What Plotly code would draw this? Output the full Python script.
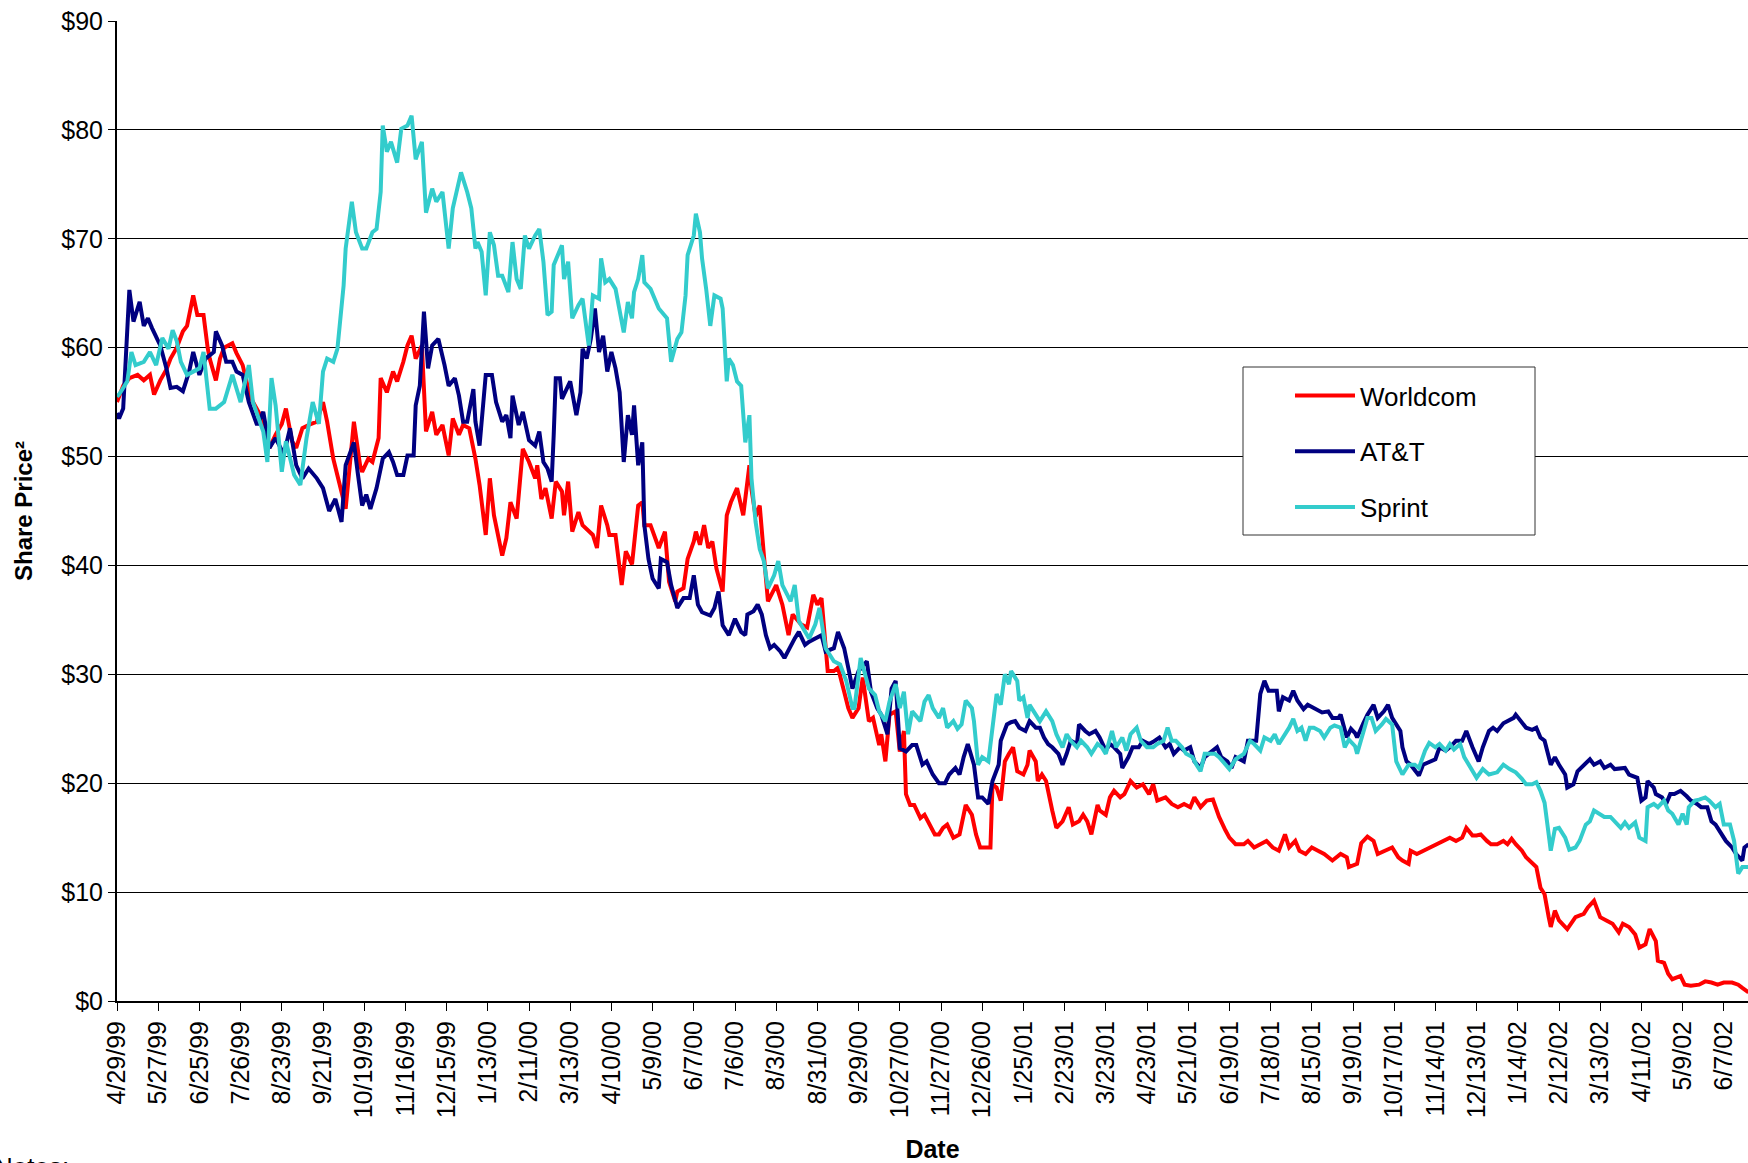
import plotly.graph_objects as go

# ---------------- data (trading-day index, closing price) ----------------
tick_labels = ["4/29/99", "5/27/99", "6/25/99", "7/26/99", "8/23/99", "9/21/99", "10/19/99",
               "11/16/99", "12/15/99", "1/13/00", "2/11/00", "3/13/00", "4/10/00", "5/9/00",
               "6/7/00", "7/6/00", "8/3/00", "8/31/00", "9/29/00", "10/27/00", "11/27/00",
               "12/26/00", "1/25/01", "2/23/01", "3/23/01", "4/23/01", "5/21/01", "6/19/01",
               "7/18/01", "8/15/01", "9/19/01", "10/17/01", "11/14/01", "12/13/01", "1/14/02",
               "2/12/02", "3/13/02", "4/11/02", "5/9/02", "6/7/02"]
tick_days = [20 * i for i in range(len(tick_labels))]

worldcom_day = [0, 1, 3, 6, 10, 13, 16, 18, 21, 24, 26, 29, 32, 34, 37, 39, 42, 44, 45, 48, 50, 52,
                56, 58, 61, 64, 66, 69, 71, 74, 77, 80, 82, 85, 87, 90, 93, 97, 100, 102, 105, 108,
                111, 115, 118, 119, 122, 124, 127, 128, 131, 134, 136, 139, 141, 143, 145, 148, 150,
                153, 155, 158, 161, 163, 166, 168, 171, 174, 176, 179, 181, 183, 187, 189, 191, 194,
                197, 200, 203, 204, 206, 208, 211, 213, 216, 217, 219, 221, 224, 226, 229, 231, 233,
                235, 238, 239, 242, 243, 245, 247, 250, 251, 253, 255, 256, 259, 261, 263, 266, 268,
                271, 272, 275, 277, 280, 281, 283, 285, 287, 289, 291, 294, 296, 298, 301, 304, 307,
                308, 310, 312, 314, 316, 320, 323, 326, 328, 332, 335, 338, 340, 342, 344, 345, 348,
                350, 353, 355, 357, 360, 362, 365, 367, 370, 371, 373, 375, 378, 380, 382, 383, 385,
                387, 390, 392, 395, 397, 399, 401, 403, 406, 409, 412, 415, 417, 419, 421, 424, 425,
                427, 429, 431, 433, 435, 437, 440, 442, 443, 446, 447, 449, 451, 454, 456, 459, 462,
                464, 467, 469, 471, 473, 476, 477, 480, 482, 484, 487, 489, 492, 495, 498, 501, 503,
                505, 509, 512, 515, 518, 521, 523, 526, 529, 532, 535, 538, 540, 543, 547, 549, 552,
                555, 558, 561, 564, 567, 569, 572, 574, 577, 580, 583, 586, 590, 594, 597, 598, 602,
                604, 607, 610, 612, 615, 619, 622, 624, 627, 628, 631, 634, 637, 640, 644, 647, 650,
                653, 655, 658, 660, 662, 665, 667, 670, 673, 675, 677, 679, 682, 684, 687, 689, 691,
                693, 695, 696, 698, 700, 704, 706, 708, 712, 714, 717, 720, 723, 726, 729, 731, 734,
                737, 739, 742, 744, 747, 748, 751, 753, 755, 759, 761, 764, 768, 771, 774, 777, 780,
                784, 787, 789, 792]
worldcom_price = [55.0, 55.6, 56.5, 57.2, 57.5, 57.0, 57.5, 55.7, 57.0, 58.0, 59.0, 60.0, 61.5, 62.0,
                  64.8, 63.0, 63.0, 60.0, 59.0, 57.0, 59.0, 60.0, 60.4, 59.5, 58.4, 56.0, 55.0, 54.0,
                  52.6, 50.8, 52.0, 53.0, 54.4, 51.4, 50.8, 52.6, 52.9, 53.2, 55.0, 53.2, 49.8, 47.5,
                  45.2, 53.2, 49.2, 48.6, 49.8, 49.5, 51.7, 57.2, 55.9, 57.8, 56.9, 58.7, 60.2, 61.1,
                  59.0, 60.2, 52.3, 54.1, 52.0, 52.9, 50.1, 53.5, 52.0, 52.9, 52.6, 49.8, 47.4, 42.8,
                  48.0, 44.6, 40.9, 42.5, 45.8, 44.3, 50.7, 49.5, 48.0, 49.2, 46.1, 47.1, 44.3, 47.7,
                  46.8, 44.6, 47.7, 43.1, 44.9, 43.7, 43.1, 42.8, 41.6, 45.5, 43.7, 42.8, 42.8, 41.3,
                  38.2, 41.3, 40.1, 41.9, 45.5, 45.8, 43.7, 43.7, 42.5, 41.6, 43.1, 38.5, 36.7, 37.6,
                  37.9, 40.6, 42.2, 43.1, 41.9, 43.7, 41.6, 42.2, 39.7, 37.6, 44.6, 45.8, 47.1, 44.6,
                  49.2, 47.0, 44.5, 45.5, 41.0, 36.7, 38.2, 36.4, 33.6, 35.5, 34.6, 34.3, 37.3, 36.4,
                  37.0, 32.7, 30.3, 30.3, 30.6, 28.4, 26.9, 26.0, 26.9, 29.7, 25.7, 26.0, 23.5, 24.5,
                  22.0, 26.3, 26.6, 22.9, 24.8, 19.0, 18.0, 18.0, 16.8, 17.1, 15.9, 15.3, 15.3, 15.9,
                  16.2, 15.0, 15.3, 18.0, 17.1, 15.3, 14.1, 14.1, 14.1, 19.9, 19.6, 18.4, 22.0, 22.7,
                  23.3, 21.1, 20.8, 21.7, 23.0, 22.0, 20.2, 20.8, 20.2, 17.5, 15.9, 16.5, 17.8, 16.2,
                  16.5, 17.1, 16.5, 15.3, 18.0, 17.5, 17.1, 18.7, 19.3, 18.7, 19.0, 20.2, 19.6, 19.9,
                  19.0, 19.9, 18.4, 18.7, 18.1, 17.8, 18.1, 17.8, 18.7, 17.8, 18.4, 18.5, 16.9, 15.7,
                  15.0, 14.4, 14.4, 14.7, 14.1, 14.4, 14.7, 14.1, 13.8, 15.3, 14.1, 14.7, 13.8, 13.5,
                  14.1, 13.8, 13.5, 12.9, 13.5, 13.2, 12.3, 12.6, 14.5, 15.1, 14.7, 13.5, 13.8, 14.1,
                  13.2, 12.9, 12.6, 13.8, 13.5, 13.8, 14.1, 14.4, 14.7, 15.0, 14.7, 15.0, 15.9, 15.2,
                  15.2, 15.3, 14.7, 14.4, 14.4, 14.7, 14.4, 14.9, 14.4, 13.8, 13.2, 12.6, 12.3, 10.4,
                  9.8, 7.7, 6.8, 8.3, 7.4, 6.6, 7.1, 7.7, 8.0, 8.6, 9.2, 7.7, 7.4, 7.1, 6.3, 7.1, 6.8,
                  6.1, 4.9, 5.2, 6.6, 5.5, 3.7, 3.5, 2.5, 2.0, 2.3, 1.5, 1.4, 1.5, 1.8, 1.7, 1.5, 1.7,
                  1.7, 1.5, 1.2, 0.8]

att_day = [0, 1, 3, 6, 8, 11, 13, 15, 17, 21, 24, 26, 29, 32, 35, 37, 40, 43, 47, 48, 51, 53, 56, 58,
           61, 64, 68, 71, 74, 77, 81, 84, 87, 90, 93, 97, 100, 103, 106, 109, 111, 115, 117, 119, 121,
           123, 126, 129, 132, 134, 136, 139, 141, 144, 145, 147, 149, 151, 153, 156, 159, 161, 164,
           166, 168, 170, 173, 174, 176, 179, 182, 184, 187, 189, 191, 192, 195, 197, 200, 203, 205,
           207, 209, 211, 212, 213, 215, 216, 220, 223, 225, 226, 228, 230, 232, 234, 236, 238, 240,
           242, 244, 246, 248, 250, 251, 253, 255, 256, 258, 260, 263, 264, 267, 269, 272, 275, 278,
           280, 282, 284, 288, 290, 292, 294, 297, 300, 303, 305, 306, 309, 311, 313, 315, 317, 319,
           322, 324, 327, 329, 331, 334, 336, 339, 342, 344, 348, 350, 353, 355, 357, 360, 364, 366,
           369, 371, 374, 376, 378, 380, 383, 386, 388, 391, 393, 396, 399, 402, 404, 407, 409, 411,
           413, 416, 418, 420, 423, 425, 428, 429, 432, 434, 436, 438, 441, 443, 446, 448, 450, 452,
           454, 457, 459, 461, 463, 466, 467, 470, 472, 475, 477, 480, 482, 484, 487, 488, 491, 493,
           496, 498, 501, 503, 506, 509, 511, 513, 516, 518, 521, 523, 526, 528, 530, 534, 536, 539,
           541, 543, 547, 549, 553, 555, 557, 559, 561, 563, 564, 566, 569, 571, 573, 576, 578, 581,
           583, 585, 588, 590, 593, 594, 597, 599, 601, 602, 605, 607, 610, 612, 615, 617, 619, 623,
           624, 626, 628, 632, 634, 637, 640, 642, 645, 647, 650, 653, 655, 658, 661, 663, 666, 668,
           670, 673, 675, 678, 679, 682, 684, 687, 689, 691, 693, 696, 698, 700, 703, 704, 707, 709,
           712, 715, 717, 720, 722, 725, 727, 730, 732, 734, 738, 740, 742, 743, 746, 747, 750, 752,
           754, 756, 759, 762, 764, 767, 769, 772, 774, 776, 779, 781, 784, 786, 789, 790, 792]
att_price = [54.0, 53.5, 54.4, 65.3, 62.4, 64.2, 62.0, 62.7, 61.8, 60.2, 58.1, 56.3, 56.4, 56.0, 57.8,
             59.6, 57.5, 59.0, 59.6, 61.5, 60.2, 58.7, 58.7, 57.8, 57.5, 55.0, 52.9, 54.1, 50.8, 51.7,
             50.2, 52.6, 49.2, 48.0, 48.9, 48.0, 47.1, 45.0, 46.1, 44.0, 49.2, 51.3, 48.3, 45.5, 46.5,
             45.2, 47.1, 49.8, 50.4, 49.5, 48.3, 48.3, 50.1, 50.1, 54.7, 56.5, 63.3, 58.1, 60.2, 60.8,
             58.4, 56.5, 57.2, 55.6, 53.2, 53.2, 56.2, 53.2, 51.0, 57.5, 57.5, 55.0, 53.2, 53.8, 51.7,
             55.6, 52.9, 54.1, 51.5, 51.0, 52.3, 49.5, 48.9, 47.7, 52.0, 57.2, 57.2, 55.3, 56.9, 53.8,
             55.9, 59.9, 59.0, 60.8, 63.6, 59.6, 61.1, 57.8, 59.6, 58.1, 55.9, 49.5, 53.8, 52.0, 54.7,
             49.2, 51.3, 43.7, 40.6, 38.8, 37.9, 40.6, 40.3, 38.2, 36.1, 37.0, 37.0, 39.1, 36.4, 35.7,
             35.4, 36.1, 37.6, 34.5, 33.6, 35.1, 33.9, 33.6, 35.5, 35.8, 36.4, 35.5, 33.6, 32.4, 32.7,
             32.1, 31.5, 32.7, 33.3, 33.9, 32.7, 33.0, 33.3, 33.6, 32.1, 32.4, 33.9, 32.4, 30.6, 28.7,
             30.3, 31.2, 28.4, 26.9, 26.3, 24.5, 28.7, 29.4, 23.2, 22.9, 23.5, 23.5, 21.7, 22.0, 20.8,
             20.0, 20.0, 20.8, 21.4, 20.8, 22.4, 23.6, 21.7, 18.7, 18.7, 18.1, 20.2, 21.7, 23.9, 25.4,
             25.6, 25.7, 25.1, 24.8, 25.7, 25.1, 25.1, 24.2, 23.6, 23.3, 22.7, 21.7, 22.7, 23.9, 23.6,
             25.4, 24.8, 24.5, 24.8, 24.2, 23.0, 23.6, 23.3, 22.7, 21.4, 22.4, 23.3, 23.3, 23.9, 23.6,
             23.8, 24.2, 23.3, 23.6, 22.7, 23.3, 23.0, 23.3, 22.0, 21.4, 22.4, 22.7, 23.3, 22.4, 22.0,
             21.4, 22.4, 22.0, 23.9, 23.9, 28.2, 29.4, 28.5, 28.5, 28.5, 26.6, 27.9, 27.6, 28.5, 27.6,
             26.8, 27.2, 26.9, 26.6, 26.5, 26.6, 26.0, 26.0, 26.3, 24.2, 25.0, 24.6, 24.2, 25.5, 26.3,
             27.2, 26.0, 26.6, 27.2, 26.0, 24.8, 23.3, 22.0, 21.7, 20.7, 21.7, 22.0, 22.2, 23.3, 23.0,
             23.3, 23.9, 23.9, 24.8, 23.3, 22.0, 23.3, 24.8, 25.1, 24.8, 25.5, 25.7, 26.0, 26.3, 25.6,
             25.1, 24.9, 25.1, 24.2, 23.9, 21.7, 22.4, 21.7, 20.8, 19.6, 19.9, 21.1, 21.7, 22.2, 21.7,
             22.0, 21.4, 21.7, 21.3, 21.4, 21.4, 20.8, 20.5, 18.4, 18.7, 20.2, 19.6, 19.0, 18.7, 18.1,
             19.0, 19.0, 19.3, 18.8, 18.4, 18.1, 17.8, 17.8, 16.5, 16.2, 15.3, 14.7, 14.1, 13.5, 12.9,
             14.1, 14.4]

sprint_day = [0, 1, 5, 7, 9, 13, 16, 19, 22, 25, 27, 29, 31, 34, 37, 40, 42, 45, 48, 52, 56, 60, 64,
              66, 71, 73, 75, 77, 80, 82, 86, 89, 92, 95, 98, 100, 102, 105, 107, 110, 111, 114, 116,
              119, 121, 124, 126, 128, 129, 131, 133, 136, 138, 141, 143, 145, 148, 150, 153, 155, 158,
              161, 163, 165, 167, 170, 172, 174, 175, 177, 179, 181, 183, 185, 187, 190, 192, 194, 196,
              198, 200, 203, 205, 207, 209, 211, 212, 216, 217, 219, 221, 224, 226, 229, 231, 234, 235,
              237, 239, 242, 244, 246, 248, 250, 251, 253, 255, 256, 259, 261, 263, 267, 269, 272, 274,
              276, 277, 280, 281, 283, 284, 286, 288, 290, 293, 294, 296, 297, 299, 301, 303, 305, 307,
              308, 310, 312, 314, 316, 319, 321, 323, 327, 329, 331, 334, 336, 339, 341, 344, 346, 348,
              351, 354, 357, 358, 361, 363, 365, 368, 370, 373, 375, 378, 380, 382, 384, 386, 390, 392,
              394, 396, 399, 401, 403, 406, 408, 410, 412, 415, 416, 418, 420, 423, 425, 427, 429, 431,
              433, 434, 437, 438, 440, 442, 443, 446, 448, 451, 454, 456, 459, 461, 463, 466, 468, 471,
              473, 476, 478, 480, 483, 485, 488, 490, 492, 495, 497, 500, 503, 505, 508, 510, 512, 514,
              517, 519, 522, 524, 526, 528, 530, 533, 535, 538, 540, 543, 545, 547, 550, 552, 555, 557,
              560, 562, 564, 567, 569, 571, 573, 575, 577, 579, 581, 584, 586, 589, 591, 594, 596, 598,
              601, 602, 605, 607, 609, 611, 614, 616, 619, 621, 624, 627, 630, 632, 635, 637, 640, 642,
              645, 647, 649, 652, 654, 657, 660, 663, 666, 670, 673, 676, 679, 682, 684, 687, 689, 691,
              693, 695, 696, 698, 700, 703, 705, 708, 710, 713, 715, 717, 720, 722, 725, 727, 730, 732,
              734, 737, 739, 742, 743, 746, 748, 751, 753, 755, 758, 760, 762, 763, 766, 768, 771, 773,
              776, 778, 780, 783, 785, 787, 789, 792]
sprint_price = [55.5, 55.7, 56.9, 59.6, 58.4, 58.7, 59.6, 58.4, 60.9, 59.9, 61.6, 60.6, 58.7, 57.5,
                57.8, 58.1, 59.6, 54.4, 54.4, 55.0, 57.5, 55.0, 58.4, 55.0, 52.3, 49.5, 57.2, 54.7,
                48.6, 51.4, 48.3, 47.4, 51.7, 55.0, 53.0, 57.8, 59.0, 58.7, 59.9, 65.7, 69.1, 73.4,
                70.6, 69.1, 69.1, 70.6, 70.9, 74.3, 80.4, 78.0, 78.9, 77.0, 80.1, 80.4, 81.3, 77.3,
                78.9, 72.4, 74.6, 73.4, 74.3, 69.1, 72.8, 74.3, 76.1, 74.3, 72.8, 69.1, 69.7, 68.8,
                64.8, 70.6, 69.4, 66.6, 66.6, 65.1, 69.7, 66.3, 65.4, 70.3, 69.1, 70.3, 70.9, 67.9,
                63.0, 63.3, 67.6, 69.4, 66.3, 67.9, 62.7, 63.9, 64.5, 60.2, 64.8, 64.5, 68.2, 66.0,
                66.3, 65.4, 63.6, 61.4, 64.2, 62.7, 65.1, 66.3, 68.5, 66.0, 65.4, 64.5, 63.6, 62.7,
                58.7, 60.8, 61.4, 64.8, 68.5, 70.3, 72.3, 70.6, 68.2, 65.4, 62.0, 64.8, 64.5, 63.6,
                56.9, 59.0, 58.4, 56.9, 56.5, 51.3, 53.8, 48.0, 44.0, 41.5, 40.4, 37.9, 39.1, 40.4,
                38.2, 36.7, 38.2, 34.9, 33.9, 33.3, 34.6, 36.1, 32.4, 31.8, 31.2, 30.9, 29.4, 26.9,
                26.9, 31.5, 30.0, 28.7, 28.1, 26.6, 25.7, 27.5, 29.1, 26.9, 28.4, 24.5, 26.6, 25.7,
                27.5, 28.1, 26.9, 26.0, 26.9, 25.1, 25.7, 25.0, 25.4, 27.6, 26.9, 25.7, 21.7, 22.4,
                22.0, 25.1, 28.2, 27.2, 30.0, 29.1, 30.3, 29.4, 27.6, 27.9, 26.0, 27.2, 26.3, 25.7,
                26.6, 25.7, 24.5, 23.3, 24.5, 23.9, 23.3, 23.9, 23.3, 22.7, 23.6, 23.3, 22.7, 24.8,
                23.3, 24.2, 23.0, 24.5, 25.1, 23.9, 23.3, 23.3, 23.6, 23.9, 25.1, 23.9, 23.9, 23.3,
                22.7, 22.4, 21.7, 21.1, 22.7, 22.7, 22.7, 22.4, 21.7, 21.3, 22.2, 22.4, 22.7, 23.9,
                23.6, 23.0, 24.2, 23.9, 24.5, 23.6, 24.5, 25.1, 25.9, 24.8, 25.1, 23.9, 25.1, 25.1,
                24.8, 24.2, 25.1, 25.3, 25.1, 23.3, 24.0, 23.4, 22.7, 24.8, 26.0, 26.0, 24.8, 25.4,
                25.9, 25.4, 22.0, 20.8, 21.7, 21.7, 21.4, 23.0, 23.7, 23.3, 23.6, 23.0, 23.6, 23.1,
                23.6, 22.4, 21.4, 20.5, 21.3, 20.8, 21.0, 21.7, 21.3, 21.0, 20.4, 19.9, 19.9, 20.1,
                19.3, 18.2, 15.3, 13.8, 15.8, 15.9, 15.0, 13.9, 14.1, 14.7, 16.2, 16.5, 17.5, 17.2,
                16.9, 16.9, 16.5, 15.9, 16.4, 15.9, 16.4, 15.0, 14.7, 17.8, 18.1, 17.8, 18.4, 17.5,
                17.2, 16.2, 17.2, 16.2, 17.8, 18.4, 18.5, 18.7, 18.4, 17.8, 18.1, 16.2, 16.2, 14.7,
                11.7, 12.3, 12.3]

# ---------------- figure ----------------
FONT = "Liberation Sans, Arial, sans-serif"
W, H = 1748, 1163
ML, MT, MB = 117, 21, 162
PX_PER_DAY = 2.06
x_max = (W - ML) / PX_PER_DAY

fig = go.Figure()
series = [("Worldcom", worldcom_day, worldcom_price, "#FF0000"),
          ("AT&T", att_day, att_price, "#000080"),
          ("Sprint", sprint_day, sprint_price, "#33CCCC")]
for name, xs, ys, col in series:
    fig.add_trace(go.Scatter(x=xs, y=ys, mode="lines", name=name, legendgroup=name,
                             line=dict(color=col, width=4)))

# legend frame (white box with thin dark border)
fig.add_shape(type="rect", xref="paper", yref="paper",
              x0=(1243 - ML) / (W - ML), x1=(1535 - ML) / (W - ML),
              y0=(1001 - 535) / 980, y1=(1001 - 367) / 980,
              fillcolor="white", line=dict(color="#333333", width=1), layer="above")

fig.update_layout(
    width=W, height=H,
    margin=dict(l=ML, r=0, t=MT, b=MB, pad=0),
    paper_bgcolor="white", plot_bgcolor="white",
    font=dict(family=FONT, size=25, color="black"),
    showlegend=True,
    legend=dict(x=(1290 - ML) / (W - ML), y=(1001 - 372) / 980, xanchor="left", yanchor="top",
                bgcolor="rgba(0,0,0,0)", borderwidth=0, font=dict(size=26, family=FONT),
                itemwidth=60, tracegroupgap=19, traceorder="grouped"),
    xaxis=dict(range=[0, x_max], tickmode="array", tickvals=tick_days, ticktext=tick_labels,
               tickangle=-90, showgrid=False, zeroline=False, showline=True, linecolor="black",
               linewidth=2, ticks="outside", ticklen=8, tickcolor="black", tickwidth=1,
               tickfont=dict(size=25, family=FONT), automargin=False,
               title=dict(text="Date", font=dict(size=25, family=FONT, weight="bold"), standoff=27)),
    # companion axis that draws the inner half of the crossing tick marks
    xaxis2=dict(range=[0, x_max], overlaying="x", anchor="y", side="bottom", tickmode="array",
                tickvals=tick_days, showticklabels=False, showgrid=False, zeroline=False,
                showline=False, ticks="inside", ticklen=8, tickcolor="black", tickwidth=1,
                automargin=False),
    yaxis=dict(range=[0, 90], dtick=10, tick0=0, tickprefix="$", showgrid=True, gridcolor="black",
               gridwidth=1, zeroline=False, showline=True, linecolor="black", linewidth=2,
               ticks="outside", ticklen=7, tickcolor="black", tickfont=dict(size=25, family=FONT),
               automargin=False,
               title=dict(text="Share Price²", font=dict(size=24, family=FONT, weight="bold"), standoff=22)),
    annotations=[dict(text="Notes:", xref="paper", yref="paper", x=(-8 - ML) / (W - ML),
                      y=(1001 - 1150) / 980, xanchor="left", yanchor="top", showarrow=False,
                      font=dict(size=26, family=FONT))],
)

fig.write_html("out.html", config={"displayModeBar": False},
               post_script="document.body.style.margin='0px';document.body.style.padding='0px';")
